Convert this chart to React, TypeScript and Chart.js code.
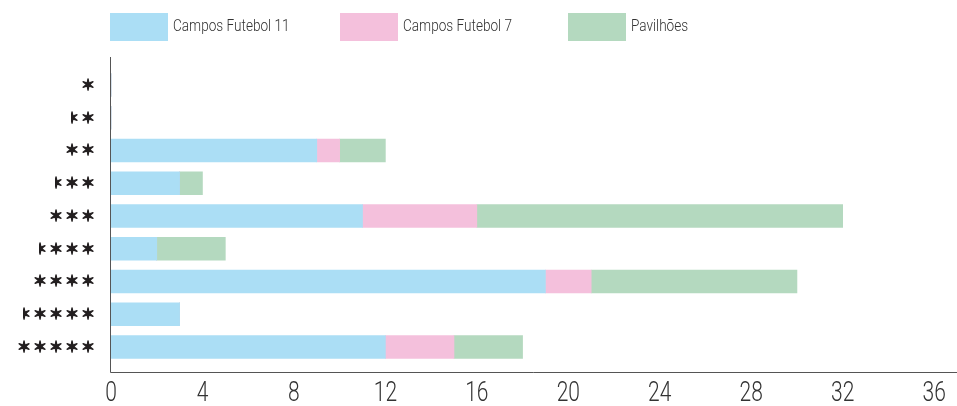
import React, { useEffect, useRef } from "react";
import { Chart, registerables } from "chart.js";

Chart.register(...registerables);

const ratings = [1, 1.5, 2, 2.5, 3, 3.5, 4, 4.5, 5];
const seriesNames = ["Campos Futebol 11", "Campos Futebol 7", "Pavilhões"];
const futebol11 = [0, 0, 9, 3, 11, 2, 19, 3, 12];
const futebol7 = [0, 0, 1, 0, 5, 0, 2, 0, 3];
const pavilhoes = [0, 0, 2, 1, 16, 3, 9, 0, 3];
const xTicks = [0, 4, 8, 12, 16, 20, 24, 28, 32, 36];
const colors = ["#abdef5", "#f4c0dc", "#b4d9bf"];
const STAR = "\u2736";

function condensedText(ctx: any, text: string, x: number, y: number, sx: number, align: string) {
  ctx.save();
  ctx.translate(x, y);
  ctx.scale(sx, 1);
  ctx.textAlign = align;
  ctx.fillText(text, 0, 0);
  ctx.restore();
}

const decorPlugin = {
  id: "decor",
  afterDraw(chart: any) {
    const ctx = chart.ctx;
    const area = chart.chartArea;
    const yScale = chart.scales.y;
    const xScale = chart.scales.x;
    ctx.save();
    // axis lines
    ctx.strokeStyle = "#555";
    ctx.lineWidth = 1;
    ctx.beginPath();
    ctx.moveTo(area.left - 0.5, 57);
    ctx.lineTo(area.left - 0.5, 372.5);
    ctx.lineTo(957, 372.5);
    ctx.stroke();

    // x tick labels
    ctx.fillStyle = "#333";
    ctx.textBaseline = "middle";
    ctx.font = "300 28px Roboto";
    xTicks.forEach((v) => {
      condensedText(ctx, String(v), xScale.getPixelForValue(v), 394, 0.75, "center");
    });

    // star labels
    ctx.fillStyle = "#231f20";
    ctx.strokeStyle = "#231f20";
    ctx.lineWidth = 1.4;
    ctx.lineJoin = "round";
    ctx.font = "15px 'DejaVu Sans'";
    ctx.textAlign = "center";
    ctx.textBaseline = "middle";
    const drawStar = (x: number, y: number) => {
      ctx.fillText(STAR, x, y);
      ctx.strokeText(STAR, x, y);
    };
    ratings.forEach((r, i) => {
      const y = yScale.getPixelForValue(i);
      const full = Math.floor(r);
      const half = r - full > 0;
      for (let k = 0; k < full; k++) {
        drawStar(88 - 16 * k, y + 1);
      }
      if (half) {
        const cx = 88 - 16 * full;
        ctx.save();
        ctx.beginPath();
        ctx.rect(cx - 1, y - 10, 11, 20);
        ctx.clip();
        drawStar(cx, y + 1);
        ctx.restore();
      }
    });

    // legend
    const legendX = [110, 340, 568];
    ctx.font = "300 17px Roboto";
    seriesNames.forEach((name, i) => {
      ctx.fillStyle = colors[i];
      ctx.fillRect(legendX[i], 13, 58, 28);
      ctx.fillStyle = "#333";
      condensedText(ctx, name, legendX[i] + 63, 27, 0.8, "left");
    });
    ctx.restore();
  },
};

export default function App() {
  const ref = useRef<HTMLCanvasElement>(null);
  useEffect(() => {
    if (!ref.current) return;
    const datasets = [futebol11, futebol7, pavilhoes].map((d, i) => ({
      label: seriesNames[i],
      data: d,
      backgroundColor: colors[i],
      borderWidth: 0,
      barThickness: 23,
    }));
    const chart = new Chart(ref.current, {
      type: "bar",
      data: { labels: ratings.map((r) => String(r)), datasets },
      options: {
        indexAxis: "y",
        animation: false,
        responsive: false,
        maintainAspectRatio: false,
        layout: { padding: { left: 111, right: 0, top: 68.6, bottom: 42.6 } },
        plugins: { legend: { display: false }, tooltip: { enabled: false } },
        scales: {
          y: { display: false, stacked: true },
          x: { display: false, stacked: true, min: 0, max: 37 },
        },
      },
      plugins: [decorPlugin],
    });
    return () => chart.destroy();
  }, []);
  return (
    <div style={{ position: "absolute", left: 0, top: 0, width: 957, height: 406, background: "#fff" }}>
      <canvas ref={ref} width={957} height={406} style={{ width: 957, height: 406 }} />
    </div>
  );
}
